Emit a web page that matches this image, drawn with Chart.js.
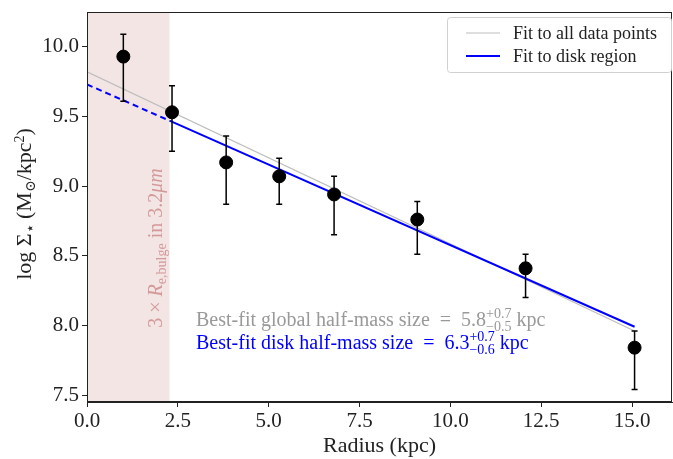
<!DOCTYPE html>
<html>
<head>
<meta charset="utf-8">
<script src="https://cdn.jsdelivr.net/npm/chart.js@4.4.1/dist/chart.umd.min.js"></script>
<style>
  html, body { margin: 0; padding: 0; background: #fff; }
  #wrap { width: 673px; height: 459px; }
</style>
</head>
<body>
<div id="wrap"><canvas id="myChart" width="673" height="459"></canvas></div>
<script>
// radial profile data
const radius = [1.0, 2.34, 3.83, 5.29, 6.80, 9.09, 12.07, 15.07];
const logSigma = [9.93, 9.53, 9.17, 9.07, 8.94, 8.76, 8.41, 7.84];
const errLow = [9.61, 9.25, 8.87, 8.87, 8.65, 8.51, 8.20, 7.54];
const errHigh = [10.09, 9.72, 9.36, 9.20, 9.07, 8.89, 8.51, 7.96];

// fits
const fitAllX = [0, 15.07];
const fitAllY = [9.82, 7.96];
const fitDiskX = [0, 2.27, 15.07];
const fitDiskY = [9.73, 9.47, 7.99];

// bulge region (3 x R_e,bulge)
const bulgeEdge = 2.27;

const xTicks = [0, 2.5, 5, 7.5, 10, 12.5, 15];
const xTickLabels = ['0.0', '2.5', '5.0', '7.5', '10.0', '12.5', '15.0'];
const yTicks = [7.5, 8.0, 8.5, 9.0, 9.5, 10.0];
const yTickLabels = ['7.5', '8.0', '8.5', '9.0', '9.5', '10.0'];

const legendLabels = ['Fit to all data points', 'Fit to disk region'];

const SERIF = '"Liberation Serif", "DejaVu Serif", serif';
const GRAY_FIT = '#bdbdbd';
const BLUE = '#0000ff';

function toXY(xs, ys) {
  return xs.map((x, i) => ({ x: x, y: ys[i] }));
}

// draw a run of text pieces; piece = {t, s (size), dy, it (italic)} or {sup, sub, s}
function richText(ctx, x, y, parts, align) {
  const setFont = (p) => {
    ctx.font = (p.it ? 'italic ' : '') + p.s + 'px ' + SERIF;
  };
  let total = 0;
  parts.forEach(p => {
    if (p.sup !== undefined) {
      ctx.font = p.s + 'px ' + SERIF;
      p.w = Math.max(ctx.measureText(p.sup).width, ctx.measureText(p.sub).width);
    } else {
      setFont(p);
      p.w = ctx.measureText(p.t).width;
    }
    total += p.w;
  });
  let cx = align === 'center' ? x - total / 2 : x;
  ctx.textAlign = 'left';
  ctx.textBaseline = 'alphabetic';
  parts.forEach(p => {
    if (p.sup !== undefined) {
      ctx.font = p.s + 'px ' + SERIF;
      ctx.fillText(p.sup, cx, y - p.up);
      ctx.fillText(p.sub, cx, y + p.down);
    } else {
      setFont(p);
      ctx.fillText(p.t, cx, y + (p.dy || 0));
    }
    cx += p.w;
  });
}

const decor = {
  id: 'decor',
  beforeDatasetsDraw(chart) {
    const { ctx, chartArea, scales } = chart;
    const x0 = scales.x.getPixelForValue(0);
    const x1 = scales.x.getPixelForValue(bulgeEdge);
    ctx.save();
    ctx.fillStyle = 'rgba(244, 229, 229, 1)';
    ctx.fillRect(x0, chartArea.top, x1 - x0, chartArea.bottom - chartArea.top);

    // bulge label, rotated
    ctx.translate(162, 248);
    ctx.rotate(-Math.PI / 2);
    ctx.fillStyle = 'rgba(205, 140, 140, 0.85)';
    richText(ctx, 0, 0, [
      { t: '3 × ', s: 20 },
      { t: 'R', s: 20, it: true },
      { t: 'e,bulge', s: 14, dy: 4 },
      { t: ' in 3.2', s: 20 },
      { t: 'μm', s: 20, it: true }
    ], 'center');
    ctx.restore();
  },
  beforeDatasetDraw(chart, args) {
    if (args.index !== 0) return;
    const { ctx, scales } = chart;
    ctx.save();
    ctx.strokeStyle = '#000';
    ctx.lineWidth = 1.5;
    radius.forEach((r, i) => {
      const px = scales.x.getPixelForValue(r);
      const yl = scales.y.getPixelForValue(errLow[i]);
      const yh = scales.y.getPixelForValue(errHigh[i]);
      ctx.beginPath();
      ctx.moveTo(px, yl); ctx.lineTo(px, yh);
      ctx.moveTo(px - 3, yl); ctx.lineTo(px + 3, yl);
      ctx.moveTo(px - 3, yh); ctx.lineTo(px + 3, yh);
      ctx.stroke();
    });
    ctx.restore();
  },
  afterDraw(chart) {
    const { ctx, chartArea } = chart;
    ctx.save();
    // frame
    ctx.strokeStyle = '#222';
    ctx.lineWidth = 1;
    ctx.strokeRect(chartArea.left + 0.5, chartArea.top + 0.5,
      chartArea.right - chartArea.left - 1, chartArea.bottom - chartArea.top - 1);

    // y title
    ctx.translate(31, 204);
    ctx.rotate(-Math.PI / 2);
    ctx.fillStyle = '#222';
    richText(ctx, 0, 0, [
      { t: 'log Σ', s: 22 },
      { t: '⋆', s: 15, dy: 4 },
      { t: ' (M', s: 22 },
      { t: '⊙', s: 14, dy: 4 },
      { t: '/kpc', s: 22 },
      { t: '2', s: 14, dy: -7 },
      { t: ')', s: 22 }
    ], 'center');
    ctx.restore();

    // best-fit texts
    ctx.save();
    ctx.fillStyle = '#999999';
    richText(ctx, 196, 326, [
      { t: 'Best-fit global half-mass size  =  5.8', s: 20 },
      { sup: '+0.7', sub: '−0.5', s: 14, up: 8, down: 5 },
      { t: ' kpc', s: 20 }
    ], 'left');
    ctx.fillStyle = BLUE;
    richText(ctx, 196, 349, [
      { t: 'Best-fit disk half-mass size  =  6.3', s: 20 },
      { sup: '+0.7', sub: '−0.6', s: 14, up: 8, down: 5 },
      { t: ' kpc', s: 20 }
    ], 'left');
    ctx.restore();

    // legend
    ctx.save();
    const lx = 447, ly = 17, lw = 224, lh = 55;
    ctx.fillStyle = 'rgba(255,255,255,0.8)';
    ctx.strokeStyle = '#d0d0d0';
    ctx.lineWidth = 1;
    ctx.beginPath();
    ctx.roundRect(lx + 0.5, ly + 0.5, lw, lh, 3);
    ctx.fill();
    ctx.stroke();
    const colors = [GRAY_FIT, BLUE];
    const widths = [1.2, 2];
    legendLabels.forEach((lab, i) => {
      const yy = ly + 16 + i * 23;
      ctx.strokeStyle = colors[i];
      ctx.lineWidth = widths[i];
      ctx.beginPath();
      ctx.moveTo(466, yy); ctx.lineTo(500, yy);
      ctx.stroke();
      ctx.fillStyle = '#222';
      ctx.font = '18px ' + SERIF;
      ctx.textAlign = 'left';
      ctx.textBaseline = 'middle';
      ctx.fillText(lab, 513, yy + 1);
    });
    ctx.restore();
  }
};

var ctx = document.getElementById('myChart').getContext('2d');
var myChart = new Chart(ctx, {
  type: 'scatter',
  data: {
    datasets: [{
      label: 'data',
      data: toXY(radius, logSigma),
      backgroundColor: '#000',
      borderColor: '#000',
      pointRadius: 6.5,
      pointHoverRadius: 6.5,
      showLine: false
    }, {
      label: legendLabels[1],
      data: toXY(fitDiskX, fitDiskY),
      showLine: true,
      borderColor: BLUE,
      borderWidth: 2,
      pointRadius: 0,
      fill: false,
      segment: {
        borderDash: c => c.p0DataIndex === 0 ? [6, 4] : undefined
      }
    }, {
      label: legendLabels[0],
      data: toXY(fitAllX, fitAllY),
      showLine: true,
      borderColor: GRAY_FIT,
      borderWidth: 1.2,
      pointRadius: 0,
      fill: false
    }]
  },
  options: {
    responsive: false,
    animation: false,
    layout: { autoPadding: false, padding: { top: 12, right: 1, left: 0, bottom: 0 } },
    plugins: {
      legend: { display: false },
      tooltip: { enabled: false }
    },
    scales: {
      x: {
        type: 'linear',
        min: 0,
        max: 16.1,
        afterBuildTicks: s => { s.ticks = xTicks.map(v => ({ value: v })); },
        afterFit: s => { s.height = 57; s.paddingLeft = 0; s.paddingRight = 0; },
        ticks: {
          callback: (v) => xTickLabels[xTicks.indexOf(v)],
          font: { family: SERIF, size: 21 },
          color: '#222',
          padding: 2,
          maxRotation: 0
        },
        grid: { drawOnChartArea: false, drawTicks: true, tickLength: 5, color: '#222' },
        border: { display: true, color: '#222' },
        title: {
          display: true,
          text: 'Radius (kpc)',
          font: { family: SERIF, size: 22 },
          color: '#222',
          padding: { top: 0, bottom: 0 }
        }
      },
      y: {
        type: 'linear',
        min: 7.45,
        max: 10.25,
        afterBuildTicks: s => { s.ticks = yTicks.map(v => ({ value: v })); },
        afterFit: s => { s.width = 87; s.paddingTop = 0; s.paddingBottom = 0; },
        ticks: {
          callback: (v) => yTickLabels[yTicks.indexOf(v)],
          font: { family: SERIF, size: 21 },
          color: '#222',
          padding: 3
        },
        grid: { drawOnChartArea: false, drawTicks: true, tickLength: 5, color: '#222' },
        border: { display: true, color: '#222' }
      }
    }
  },
  plugins: [decor]
});
</script>
</body>
</html>
